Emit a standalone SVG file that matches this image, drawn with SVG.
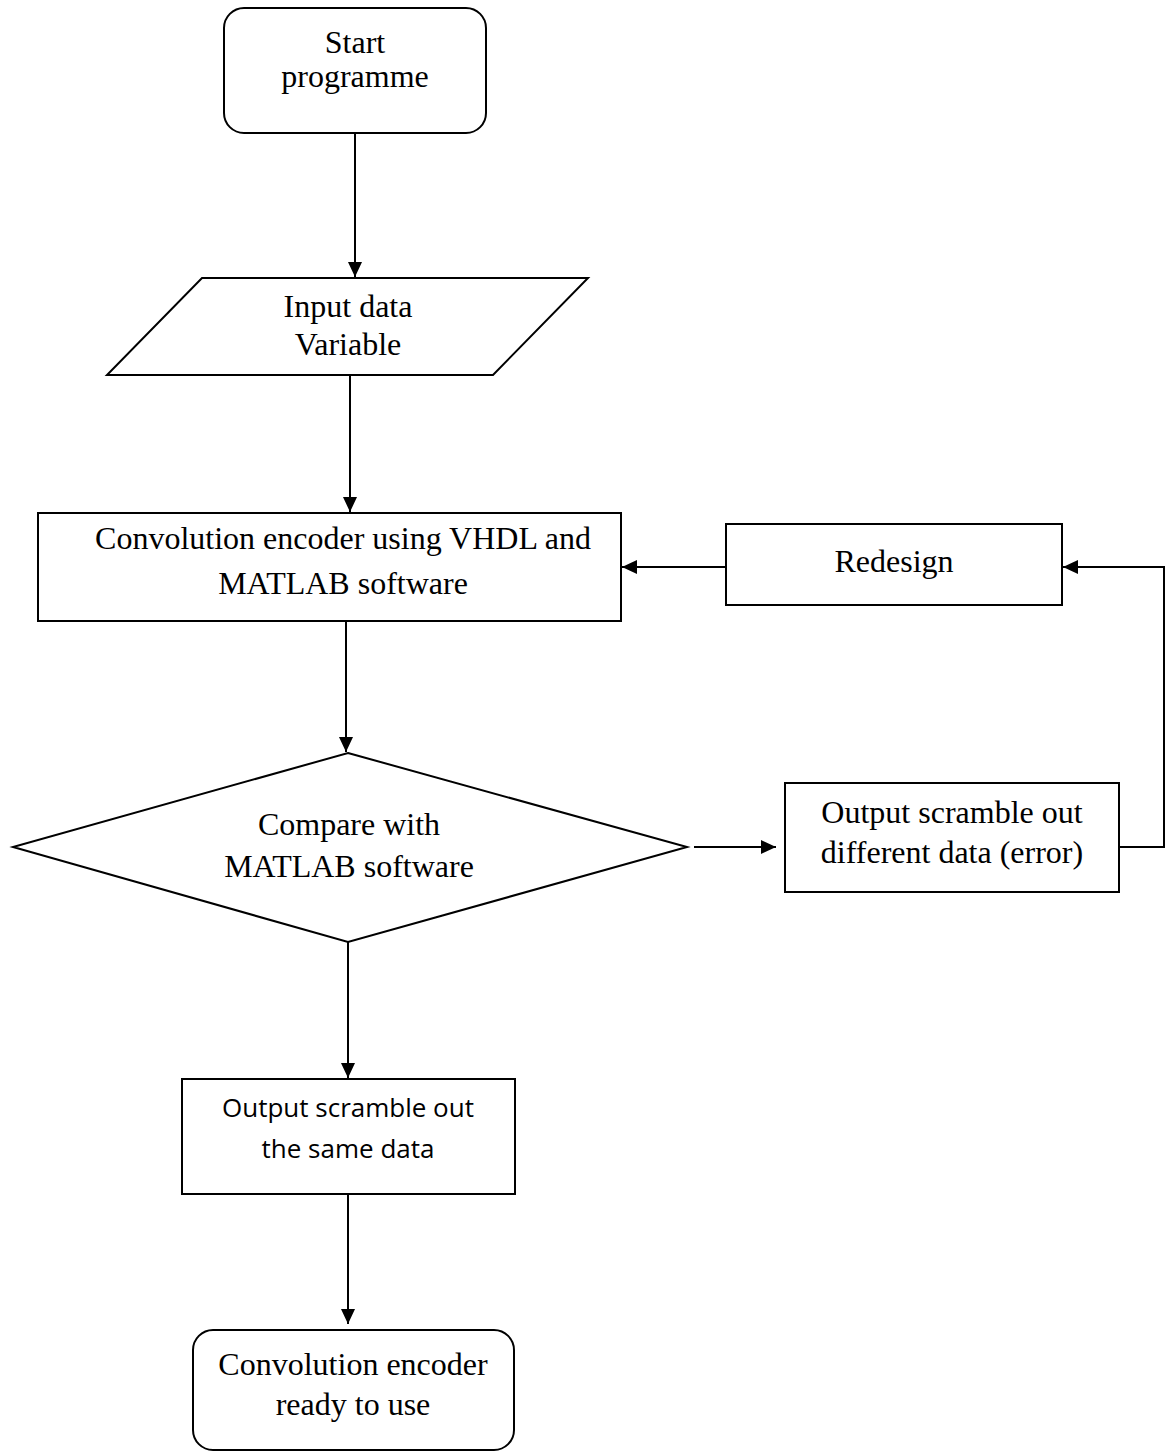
<svg xmlns="http://www.w3.org/2000/svg" width="1171" height="1453" viewBox="0 0 1171 1453">
<defs>
<marker id="ah" viewBox="0 0 15 14" refX="15" refY="7" markerWidth="15" markerHeight="14" markerUnits="userSpaceOnUse" orient="auto">
<path d="M0,0 L15,7 L0,14 z" fill="#000"/>
</marker>
<style>
.shape{fill:#fff;stroke:#000;stroke-width:2}
.t{font-family:"Liberation Serif","Times New Roman",serif;font-size:32px;fill:#000;text-anchor:middle}
.s{font-family:"Open Sans","Liberation Sans",sans-serif;font-size:26px;fill:#000;text-anchor:middle}
.c{fill:none;stroke:#000;stroke-width:2}
</style>
</defs>
<rect width="1171" height="1453" fill="#fff"/>
<g id="connectors">
<line class="c" x1="355" y1="133" x2="355" y2="277" marker-end="url(#ah)"/>
<line class="c" x1="350" y1="375" x2="350" y2="512" marker-end="url(#ah)"/>
<line class="c" x1="346" y1="621" x2="346" y2="752" marker-end="url(#ah)"/>
<line class="c" x1="348" y1="942" x2="348" y2="1078" marker-end="url(#ah)"/>
<line class="c" x1="348" y1="1194" x2="348" y2="1324" marker-end="url(#ah)"/>
<line class="c" x1="694" y1="847" x2="776" y2="847" marker-end="url(#ah)"/>
<line class="c" x1="726" y1="567" x2="622" y2="567" marker-end="url(#ah)"/>
<polyline class="c" points="1119,847 1164,847 1164,567 1063,567" marker-end="url(#ah)"/>
</g>
<g id="start">
<rect class="shape" x="224" y="8" width="262" height="125" rx="20"/>
<text class="t" x="355" y="53">Start</text>
<text class="t" x="355" y="87">programme</text>
</g>
<g id="input">
<polygon class="shape" points="202,278 588,278 493,375 107,375"/>
<text class="t" x="348" y="317">Input data</text>
<text class="t" x="348" y="355">Variable</text>
</g>
<g id="encoder">
<rect class="shape" x="38" y="513" width="583" height="108"/>
<text class="t" x="343" y="549">Convolution encoder using VHDL and</text>
<text class="t" x="343" y="594">MATLAB software</text>
</g>
<g id="redesign">
<rect class="shape" x="726" y="524" width="336" height="81"/>
<text class="t" x="894" y="572">Redesign</text>
</g>
<g id="compare">
<polygon class="shape" points="348,753 687,847 348,942 13,847"/>
<text class="t" x="349" y="835">Compare with</text>
<text class="t" x="349" y="877">MATLAB software</text>
</g>
<g id="error">
<rect class="shape" x="785" y="783" width="334" height="109"/>
<text class="t" x="952" y="823">Output scramble out</text>
<text class="t" x="952" y="863">different data (error)</text>
</g>
<g id="same">
<rect class="shape" x="182" y="1079" width="333" height="115"/>
<text class="s" x="348" y="1117">Output scramble out</text>
<text class="s" x="348" y="1158">the same data</text>
</g>
<g id="ready">
<rect class="shape" x="193" y="1330" width="321" height="120" rx="20"/>
<text class="t" x="353" y="1375">Convolution encoder</text>
<text class="t" x="353" y="1415">ready to use</text>
</g>
</svg>
